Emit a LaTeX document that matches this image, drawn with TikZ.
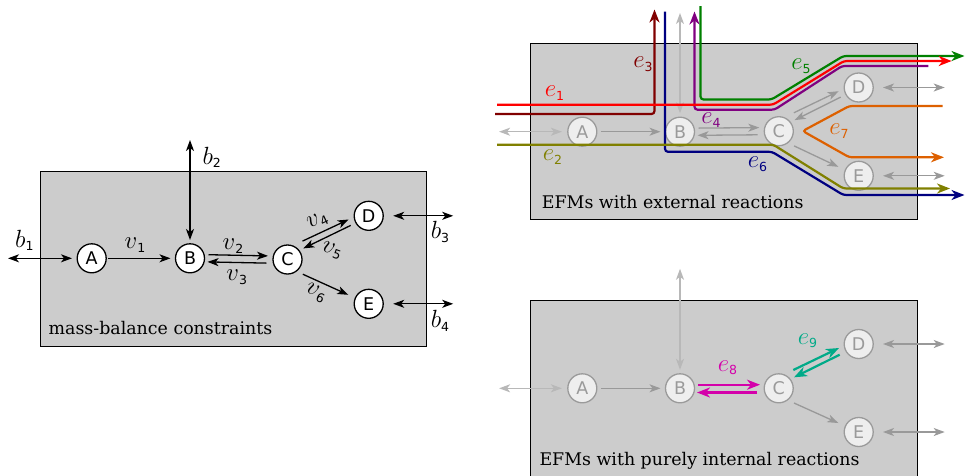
\documentclass[tikz,border=0pt]{standalone}
\usepackage{fontspec}
\setmainfont{DejaVu Serif}
\newfontfamily\dvs{DejaVu Sans}
\usetikzlibrary{arrows.meta,calc}
\definecolor{boxgray}{HTML}{CCCCCC}
\definecolor{nodegray}{HTML}{9A9A9A}
\definecolor{nodefill}{HTML}{EEEEEE}
\definecolor{lightarr}{HTML}{B8B8B8}
\definecolor{midarr}{HTML}{999999}
\definecolor{cmaroon}{HTML}{800000}
\definecolor{cnavy}{HTML}{000080}
\definecolor{cpurple}{HTML}{800080}
\definecolor{cgreen}{HTML}{008000}
\definecolor{cred}{HTML}{FF0000}
\definecolor{colive}{HTML}{808000}
\definecolor{corange}{HTML}{DD6000}
\definecolor{cmagenta}{HTML}{D400AA}
\definecolor{cteal}{HTML}{00AA88}
\newcommand\lbl[2]{{\fontsize{24.88}{25}\selectfont$#1$}\raisebox{-3.5pt}{\fontsize{12.5}{12.5}\selectfont\dvs #2}}
\tikzset{
  panelbox/.style={draw=black, line width=1.2pt, fill=boxgray},
  bnode/.style={circle, draw=black, fill=white, line width=1.3pt, minimum size=29pt, inner sep=0pt, font=\dvs\fontsize{17.5}{17.5}\selectfont},
  gnode/.style={bnode, draw=nodegray, fill=nodefill, text=nodegray},
  tipS/.tip={Stealth[length=11pt,width=8pt,inset=3pt]},
  tipL/.tip={Stealth[length=13pt,width=10pt,inset=4pt]},
  blk/.style={line width=1.3pt, -tipS},
  blkdbl/.style={line width=1.3pt, tipS-tipS},
  garr/.style={line width=1.3pt, draw=midarr, -tipS},
  gdbl/.style={line width=1.3pt, draw=midarr, tipS-tipS},
  ldbl/.style={line width=1.3pt, draw=lightarr, tipS-tipS},
  epath/.style={line width=2.2pt, rounded corners=3pt},
  earr/.style={epath, -tipL},
  lab/.style={inner sep=0pt},
  boxtext/.style={anchor=base west, inner sep=0pt, font=\fontsize{17.4}{17.4}\selectfont}
}
\begin{document}
\begin{tikzpicture}[x=1pt,y=-1pt]
\useasboundingbox (0,0) rectangle (965,475);

% ================= left panel =================
\draw[panelbox] (40.3,171.7) rectangle (426.7,346.7);
\node[bnode] (lA) at (91.7,258.3) {A};
\node[bnode] (lB) at (190,258.3) {B};
\node[bnode] (lC) at (287.5,259.5) {C};
\node[bnode] (lD) at (368.7,215.8) {D};
\node[bnode] (lE) at (368.7,303.8) {E};
\coordinate (lb1) at ([shift={(-83.7,0)}]lA.center);
\coordinate (lb2) at ([shift={(0,-118.3)}]lB.center);
\coordinate (lb3) at ([shift={(84.5,0)}]lD.center);
\coordinate (lb4) at ([shift={(84.5,0)}]lE.center);
\draw[blkdbl] (lb1) -- ([shift={(-19.7,0)}]lA.center);
\draw[blkdbl] (lb2) -- ([shift={(0,-18.3)}]lB.center);
\draw[blkdbl] ([shift={(24.5,0)}]lD.center) -- (lb3);
\draw[blkdbl] ([shift={(24.5,0)}]lE.center) -- (lb4);
\draw[blk] ([shift={(16.5,0)}]lA.center) -- ([shift={(-19.5,0)}]lB.center);
\draw[blk] ([shift={(18.5,-3.6)}]lB.center) -- ([shift={(-19.5,-3.6)}]lC.center);
\draw[blk] ([shift={(-21.2,3.6)}]lC.center) -- ([shift={(17.5,3.6)}]lB.center);
\draw[blk] ([shift={(15,-18.4)}]lC.center) -- ([shift={(-20,3.7)}]lD.center);
\draw[blk] ([shift={(-18,9.6)}]lD.center) -- ([shift={(15.8,-11.1)}]lC.center);
\draw[blk] ([shift={(15.3,14.7)}]lC.center) -- ([shift={(-20.4,-9)}]lE.center);
\node[lab] at (24.4,240.5) {\lbl{b}{1}};
\node[lab] at (211.7,157.5) {\lbl{b}{2}};
\node[lab] at (135,245) {\lbl{v}{1}};
\node[lab] at (233,246) {\lbl{v}{2}};
\node[lab] at (236.7,277) {\lbl{v}{3}};
\node[lab, rotate=25] at (317.5,221) {\lbl{v}{4}};
\node[lab, rotate=-20] at (331.7,250.3) {\lbl{v}{5}};
\node[lab, rotate=-25] at (315.7,293) {\lbl{v}{6}};
\node[lab] at (440,231.7) {\lbl{b}{3}};
\node[lab] at (440,320.8) {\lbl{b}{4}};
\node[boxtext] (lt) at (48.5,334.3) {mass-balance constraints};

% ================= top right panel =================
\draw[panelbox] (530.7,43.3) rectangle (917.7,219.3);
\node[gnode] (tA) at (582.3,131.7) {A};
\node[gnode] (tB) at (680,131.7) {B};
\node[gnode] (tC) at (778.8,131.2) {C};
\node[gnode] (tD) at (858.7,87.5) {D};
\node[gnode] (tE) at (858.7,175.8) {E};
\draw[ldbl] ([shift={(-83.2,0)}]tA.center) -- ([shift={(-20.4,0)}]tA.center);
\draw[ldbl] ([shift={(0,-118.7)}]tB.center) -- ([shift={(0,-18.5)}]tB.center);
\draw[gdbl] ([shift={(24.3,0)}]tD.center) -- ([shift={(86,0)}]tD.center);
\draw[gdbl] ([shift={(24.3,0)}]tE.center) -- ([shift={(86,0)}]tE.center);
\draw[garr] ([shift={(18.5,0)}]tA.center) -- ([shift={(-19.5,0)}]tB.center);
\draw[garr] ([shift={(18.5,-3.6)}]tB.center) -- ([shift={(-19.5,-3.6)}]tC.center);
\draw[garr] ([shift={(-21.2,3.6)}]tC.center) -- ([shift={(17.5,3.6)}]tB.center);
\draw[garr] ([shift={(15,-18.4)}]tC.center) -- ([shift={(-20,3.7)}]tD.center);
\draw[garr] ([shift={(-18,9.6)}]tD.center) -- ([shift={(15.8,-11.1)}]tC.center);
\draw[garr] ([shift={(15.3,14.7)}]tC.center) -- ([shift={(-20.4,-9)}]tE.center);
% elementary modes with external reactions
\draw[earr, cnavy] (665,11.7) -- (665,151.8) -- (772,151.8) -- (843.3,195) -- (964.5,195);
\draw[earr, cmaroon] (495,114) -- (654.5,114) -- (654.5,9.5);
\draw[earr, cpurple] (928.3,66) -- (842,66) -- (774.5,109.7) -- (694.5,109.7) -- (694.5,11.5);
\draw[earr, cgreen] (700.5,6) -- (700.5,99.5) -- (771.5,99.5) -- (843.3,56) -- (964.5,56);
\draw[earr, cred] (497,104.7) -- (773,104.7) -- (844,61) -- (951.7,61);
\draw[earr, colive] (497,144.7) -- (773.3,144.7) -- (843.3,188.5) -- (950,188.5);
\draw[earr, corange] (942.7,106) -- (849.3,106) -- (802.7,131) -- (849.3,157.3) -- (944,157.3);
\node[lab, text=cred] at (554.5,93) {\lbl{e}{1}};
\node[lab, text=colive] at (552.5,157) {\lbl{e}{2}};
\node[lab, text=cmaroon] at (643,64) {\lbl{e}{3}};
\node[lab, text=cpurple] at (711,120) {\lbl{e}{4}};
\node[lab, text=cgreen] at (801,66) {\lbl{e}{5}};
\node[lab, text=cnavy] at (757.5,164) {\lbl{e}{6}};
\node[lab, text=corange] at (839,131) {\lbl{e}{7}};
\node[boxtext] (tt) at (541.7,208.3) {EFMs with external reactions};

% ================= bottom right panel =================
\draw[panelbox] (530.7,300.7) rectangle (917.7,477);
\node[gnode] (uA) at (582.3,388.3) {A};
\node[gnode] (uB) at (680,388.3) {B};
\node[gnode] (uC) at (778.7,388.3) {C};
\node[gnode] (uD) at (858.7,344) {D};
\node[gnode] (uE) at (858.7,432) {E};
\draw[ldbl] ([shift={(-83.2,0)}]uA.center) -- ([shift={(-20.4,0)}]uA.center);
\draw[ldbl] ([shift={(0,-119.5)}]uB.center) -- ([shift={(0,-18.5)}]uB.center);
\draw[gdbl] ([shift={(24.3,0)}]uD.center) -- ([shift={(86,0)}]uD.center);
\draw[gdbl] ([shift={(24.3,0)}]uE.center) -- ([shift={(86,0)}]uE.center);
\draw[garr] ([shift={(18.5,0)}]uA.center) -- ([shift={(-19.5,0)}]uB.center);
\draw[garr] ([shift={(15.3,14.7)}]uC.center) -- ([shift={(-20.4,-9)}]uE.center);
\draw[earr, cmagenta] ([shift={(18.3,-3.6)}]uB.center) -- ([shift={(-18.7,-3.6)}]uC.center);
\draw[earr, cmagenta] ([shift={(-21.7,4.2)}]uC.center) -- ([shift={(17,4.2)}]uB.center);
\draw[earr, cteal] ([shift={(14.6,-18.3)}]uC.center) -- ([shift={(-19.7,4)}]uD.center);
\draw[earr, cteal] ([shift={(-19,10.7)}]uD.center) -- ([shift={(15.3,-11)}]uC.center);
\node[lab, text=cmagenta] at (727.5,367.5) {\lbl{e}{8}};
\node[lab, text=cteal] at (807.5,340.5) {\lbl{e}{9}};
\node[boxtext] (ut) at (539.3,465) {EFMs with purely internal reactions};
\end{tikzpicture}
\end{document}
